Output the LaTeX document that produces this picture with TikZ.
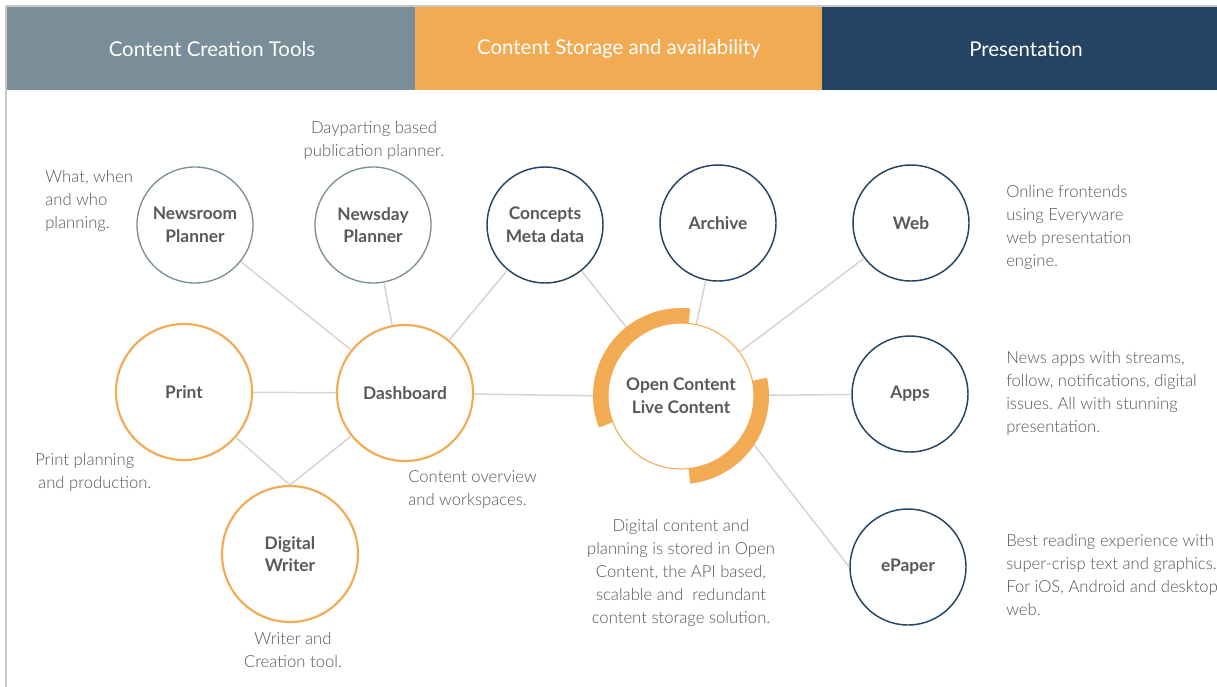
\documentclass[tikz,border=0pt]{standalone}
\usepackage{fontspec}
\setmainfont{Lato}
\newfontfamily\lightfont{Lato Light}
\frenchspacing
\definecolor{slate}{HTML}{7A8E99}
\definecolor{accent}{HTML}{F2AA53}
\definecolor{navy}{HTML}{254463}
\definecolor{linkc}{HTML}{D4D4D4}
\definecolor{labelc}{HTML}{58595B}
\definecolor{notec}{HTML}{555555}
\definecolor{framec}{HTML}{C8C8C8}
\tikzset{
  hdr/.style={text=white, font=\fontsize{15.3}{18}\selectfont},
  bubble/.style={circle, inner sep=0pt, fill=white, align=center, text=labelc,
                 font=\bfseries\fontsize{13}{17}\selectfont},
  small/.style={bubble, minimum size=87pt},
  large/.style={bubble, minimum size=102pt},
  plan/.style={small, draw=slate, line width=1pt},
  pres/.style={small, draw=navy, line width=1.1pt},
  tool/.style={large, draw=accent, line width=1.6pt},
  link/.style={draw=linkc, line width=1.1pt},
  note/.style={inner sep=0pt, text=notec, font=\lightfont\fontsize{12.5}{17.25}\selectfont},
}
\begin{document}
\begin{tikzpicture}[x=0.75pt,y=-0.75pt]
\useasboundingbox (0,0) rectangle (1217,686);

% outer frame
\draw[framec, line width=1.2pt] (6,700) -- (6,6) -- (1230,6);

% column headers
\fill[slate]  (7,7)   rectangle (415,90);
\fill[accent] (415,7) rectangle (822,90);
\fill[navy]   (822,7) rectangle (1230,90);
\node[hdr] (h1) at (212,49)  {Content Creation Tools};
\node[hdr] (h2) at (619,49)  {Content Storage and availability};
\node[hdr] (h3) at (1026,49) {Presentation};

% circles
\node[plan] (nrp) at (195,225) {Newsroom\\Planner};
\node[plan] (ndp) at (373,225) {Newsday\\Planner};
\node[pres] (cmd) at (545,225) {Concepts\\Meta data};
\node[pres] (arc) at (718,223) {Archive};
\node[pres] (web) at (911,223) {Web};
\node[pres] (app) at (910,394) {Apps};
\node[pres] (epa) at (908,567) {ePaper};
\node[tool] (prt) at (184,392) {Print};
\node[tool] (dsh) at (405,393) {Dashboard};
\node[tool] (dwr) at (290,554) {Digital\\Writer};
\node[bubble, minimum size=109.5pt, draw=accent, line width=0.8pt,
      font=\bfseries\fontsize{13}{17.25}\selectfont] (oc) at (681,396)
      {Open Content\\Live Content};

% connectors
\draw[link] (nrp) -- (dsh);
\draw[link] (ndp) -- (dsh);
\draw[link] (cmd) -- (dsh);
\draw[link] (prt) -- (dsh);
\draw[link] (prt) -- (dwr.north);
\draw[link] (dsh) -- (dwr.north);
\draw[link] (dsh) -- (oc.west);
\draw[link] (cmd) -- (oc);
\draw[link] (arc) -- (oc);
\draw[link] (web) -- (oc);
\draw[link] (app) -- (oc);
\draw[link] (oc.-30) -- (epa.west);

% thick bands around the storage circle
\fill[accent] ([shift={(-84:73)}]oc.center) arc[start angle=-84, end angle=-201, radius=73]
  -- ([shift={(-201:88)}]oc.center) arc[start angle=-201, end angle=-84, radius=88] -- cycle;
\fill[accent] ([shift={(84:73)}]oc.center) arc[start angle=84, end angle=-12, radius=73]
  -- ([shift={(-12:88)}]oc.center) arc[start angle=-12, end angle=84, radius=88] -- cycle;

% descriptions
\node[note, anchor=north west, align=left] (t1) at (45,170)
  {What, when\\and who\\planning.};
\node[note, anchor=north, align=center] (t2) at (374,121)
  {Dayparting based\\publication planner.};
\node[note, anchor=north west, align=left] (t3) at (35,453)
  {Print planning\\\hspace*{2.2pt}and production.};
\node[note, anchor=north west, align=left] (t4) at (408,470)
  {Content overview\\and workspaces.};
\node[note, anchor=north, align=center] (t5) at (293,632)
  {Writer and\\Creation tool.};
\node[note, anchor=north, align=center] (t6) at (681,519)
  {Digital content and\\planning is stored in Open\\Content, the API based,\\scalable and\ \ redundant\\content storage solution.};
\node[note, anchor=north west, align=left] (t7) at (1006,185)
  {Online frontends\\using Everyware\\web presentation\\engine.};
\node[note, anchor=north west, align=left] (t8) at (1006,351)
  {News apps with streams,\\follow, notifications, digital\\issues. All with stunning\\presentation.};
\node[note, anchor=north west, align=left] (t9) at (1006,534)
  {Best reading experience with\\super-crisp text and graphics.\\For iOS, Android and desktop\\web.};
\end{tikzpicture}
\end{document}
